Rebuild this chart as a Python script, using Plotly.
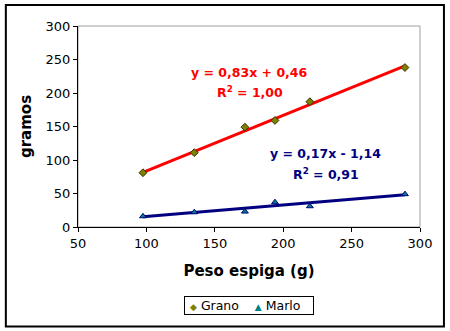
import numpy as np
import plotly.graph_objects as go

peso = [97.5, 135, 172, 194, 219.5, 289]
grano = [81, 111, 149, 159, 187, 238]
marlo = [16, 22, 23, 37, 31, 49]

grano_fit = (0.83, 0.46)
marlo_fit = (0.17, -1.14)

x_ticks = [50, 100, 150, 200, 250, 300]
y_ticks = [0, 50, 100, 150, 200, 250, 300]

font = "DejaVu Sans"
xl = [min(peso), max(peso)]

fig = go.Figure()
fig.add_trace(go.Scatter(x=xl, y=[grano_fit[0] * v + grano_fit[1] for v in xl], mode="lines",
                         line=dict(color="#FF0000", width=3), showlegend=False, hoverinfo="skip"))
fig.add_trace(go.Scatter(x=xl, y=[marlo_fit[0] * v + marlo_fit[1] for v in xl], mode="lines",
                         line=dict(color="#000080", width=3), showlegend=False, hoverinfo="skip"))
fig.add_trace(go.Scatter(x=peso, y=grano, mode="markers", name="Grano", showlegend=False,
                         marker=dict(symbol="diamond", size=6, color="#808000",
                                     line=dict(color="#333300", width=1))))
fig.add_trace(go.Scatter(x=peso, y=marlo, mode="markers", name="Marlo", showlegend=False,
                         marker=dict(symbol="triangle-up", size=6, color="#008080",
                                     line=dict(color="#000080", width=1))))

fig.add_annotation(x=175.7, y=231, text="y = 0,83x + 0,46", showarrow=False,
                   font=dict(family=font, size=12.5, color="#FF0000", weight="bold"))
fig.add_annotation(x=175.7, y=201, text="R<sup>2</sup> = 1,00", showarrow=False,
                   font=dict(family=font, size=12.5, color="#FF0000", weight="bold"))
fig.add_annotation(x=231, y=110, text="y = 0,17x - 1,14", showarrow=False,
                   font=dict(family=font, size=12.5, color="#000080", weight="bold"))
fig.add_annotation(x=231, y=79, text="R<sup>2</sup> = 0,91", showarrow=False,
                   font=dict(family=font, size=12.5, color="#000080", weight="bold"))

# legend box (compact, as in the reference)
legend_text = ("&nbsp;<span style='color:#808000;font-size:9px'>◆</span>&nbsp;Grano&nbsp;&nbsp;&nbsp;&nbsp;"
               "<span style='color:#008080;font-size:9px'>▲</span>&nbsp;Marlo&nbsp;&nbsp;&nbsp;")
fig.add_annotation(xref="paper", yref="paper", x=0.501, y=-0.393, text=legend_text,
                   showarrow=False, font=dict(family=font, size=12.5, color="black"),
                   bordercolor="black", borderwidth=1, borderpad=1, bgcolor="white",
                   xanchor="center", yanchor="middle")

# outer chart border
fig.add_shape(type="rect", xref="paper", yref="paper", x0=-0.211, x1=1.070, y0=-0.495, y1=1.104,
              line=dict(color="#000000", width=2), fillcolor="rgba(0,0,0,0)", layer="below")
# plot area border (top/right gray)
fig.add_shape(type="rect", xref="paper", yref="paper", x0=0, x1=1, y0=0, y1=1,
              line=dict(color="#A0A0A0", width=1), fillcolor="rgba(0,0,0,0)", layer="below")

fig.update_layout(
    width=450, height=331,
    margin=dict(l=78, r=30, t=26, b=104, autoexpand=False),
    paper_bgcolor="white", plot_bgcolor="white",
    font=dict(family=font, size=13, color="#000000"),
    xaxis=dict(range=[50, 300], tickvals=x_ticks, showgrid=False, zeroline=False,
               showline=True, linecolor="black", linewidth=1, ticks="outside", ticklen=4,
               tickcolor="black", tickfont=dict(size=13), automargin=False,
               title=dict(text="Peso espiga (g)", font=dict(size=15, weight="bold"), standoff=15)),
    yaxis=dict(range=[0, 300], tickvals=y_ticks, showgrid=False, zeroline=False,
               showline=True, linecolor="black", linewidth=1, ticks="outside", ticklen=4,
               tickcolor="black", tickfont=dict(size=13), automargin=False,
               title=dict(text="gramos", font=dict(size=15, weight="bold"), standoff=10)),
    showlegend=False,
)

fig.write_html("out.html")
